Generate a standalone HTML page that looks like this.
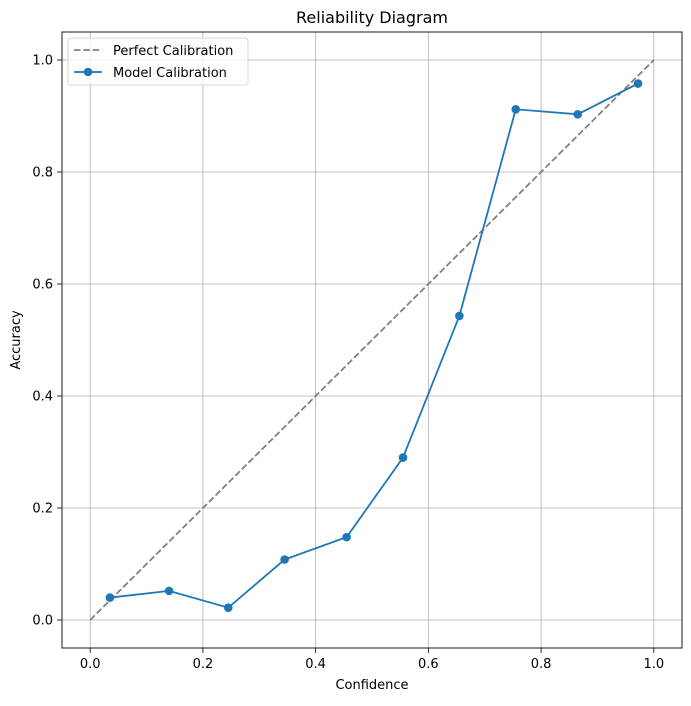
<!DOCTYPE html>
<html><head><meta charset="utf-8">
<style>
body{margin:0;background:#fff;font-family:"Liberation Sans","DejaVu Sans",sans-serif;}
svg text{font-family:"DejaVu Sans","Liberation Sans",sans-serif;}
</style></head>
<body>
<svg id="chart" width="691" height="701" xmlns="http://www.w3.org/2000/svg"></svg>
<script>
const confidence = [0.035, 0.14, 0.245, 0.345, 0.455, 0.555, 0.655, 0.755, 0.865, 0.972];
const accuracy = [0.04, 0.052, 0.022, 0.108, 0.148, 0.29, 0.543, 0.912, 0.903, 0.958];
const xTicks = [0.0, 0.2, 0.4, 0.6, 0.8, 1.0];
const yTicks = [0.0, 0.2, 0.4, 0.6, 0.8, 1.0];
const xTickLabels = ["0.0","0.2","0.4","0.6","0.8","1.0"];
const yTickLabels = ["0.0","0.2","0.4","0.6","0.8","1.0"];

const L=62,R=682,T=32,B=648;
const xmin=-0.05,xmax=1.05,ymin=-0.05,ymax=1.05;
const sx=v=>L+(v-xmin)/(xmax-xmin)*(R-L);
const sy=v=>B-(v-ymin)/(ymax-ymin)*(B-T);
const svg=document.getElementById('chart');
const NS="http://www.w3.org/2000/svg";
function mk(tag,attrs,parent){const e=document.createElementNS(NS,tag);for(const k in attrs)e.setAttribute(k,attrs[k]);(parent||svg).appendChild(e);return e;}

xTicks.forEach((t,i)=>{
  const g=mk('line',{x1:sx(t),x2:sx(t),y1:T,y2:B,stroke:'#b0b0b0','stroke-width':0.8});
  
  
  const tk=mk('line',{x1:sx(t),x2:sx(t),y1:B,y2:B+5,stroke:'#000','stroke-width':0.8});
  
  
  const tx=mk('text',{x:sx(t),y:B+20,'font-size':13,'text-anchor':'middle',fill:'#000'});
  tx.textContent=xTickLabels[i];
  
  
});
yTicks.forEach((t,i)=>{
  const g=mk('line',{x1:L,x2:R,y1:sy(t),y2:sy(t),stroke:'#b0b0b0','stroke-width':0.8});
  
  
  const tk=mk('line',{x1:L-5,x2:L,y1:sy(t),y2:sy(t),stroke:'#000','stroke-width':0.8});
  
  
  const tx=mk('text',{x:L-9,y:sy(t)+4.5,'font-size':13,'text-anchor':'end',fill:'#000'});
  tx.textContent=yTickLabels[i];
  
  
});

const pc=mk('line',{x1:sx(0),y1:sy(0),x2:sx(1),y2:sy(1),stroke:'#808080','stroke-width':1.8,'stroke-dasharray':'6.5,2.8'});



const pts=confidence.map((c,i)=>sx(c)+','+sy(accuracy[i])).join(' ');
const ml=mk('polyline',{points:pts,fill:'none',stroke:'#1f77b4','stroke-width':1.8});


confidence.forEach((c,i)=>{
  const p=mk('circle',{cx:sx(c),cy:sy(accuracy[i]),r:4.3,fill:'#1f77b4'});
  
  
});

const fr=mk('rect',{x:L,y:T,width:R-L,height:B-T,fill:'none',stroke:'#000','stroke-width':0.9});



const tt=mk('text',{x:(L+R)/2,y:T-9,'font-size':16,'text-anchor':'middle'});
tt.textContent='Reliability Diagram';


const xt=mk('text',{x:(L+R)/2,y:689,'font-size':13,'text-anchor':'middle'});
xt.textContent='Confidence';


const yt=mk('text',{x:20,y:(T+B)/2,'font-size':13,'text-anchor':'middle',transform:'rotate(-90 20 '+((T+B)/2)+')'});
yt.textContent='Accuracy';



const lg=mk('g',{});


mk('rect',{x:68,y:38,width:180,height:47,rx:3,fill:'#fff','fill-opacity':0.8,stroke:'#ccc','stroke-width':0.8},lg);
mk('line',{x1:74,x2:102,y1:50,y2:50,stroke:'#808080','stroke-width':1.8,'stroke-dasharray':'6.5,2.8'},lg);
const l1=mk('text',{x:113,y:55,'font-size':13},lg);l1.textContent='Perfect Calibration';


mk('line',{x1:74,x2:102,y1:72,y2:72,stroke:'#1f77b4','stroke-width':1.8},lg);
mk('circle',{cx:88,cy:72,r:4.3,fill:'#1f77b4'},lg);
const l2=mk('text',{x:113,y:77,'font-size':13},lg);l2.textContent='Model Calibration';


</script>
</body></html>
